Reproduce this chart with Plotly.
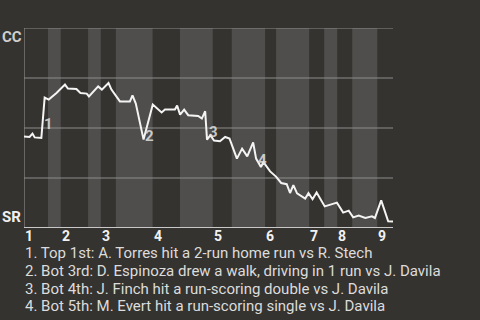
import plotly.graph_objects as go

# Game progress (0-100) and CC win probability after each plate appearance
progress = [0.0, 1.5, 2.3, 2.9, 4.7, 5.1, 5.6, 6.7, 8.8, 11.1, 11.9, 14.2, 15.3, 17.0,
            17.6, 20.1, 21.1, 22.9, 23.7, 26.0, 28.7, 29.4, 30.3, 32.4, 34.9, 37.3,
            38.2, 40.9, 41.5, 42.3, 43.4, 44.5, 47.2, 48.2, 49.1, 49.6, 50.5, 51.5,
            53.1, 54.5, 55.7, 57.7, 59.1, 60.5, 62.1, 62.9, 64.2, 64.9, 66.7, 68.3,
            69.7, 71.2, 72.1, 73.0, 74.0, 76.2, 77.1, 78.2, 79.3, 81.5, 83.1, 84.8,
            86.5, 88.0, 89.2, 90.7, 92.5, 94.3, 95.1, 96.8, 98.7, 100.0]
win_prob = [0.458, 0.455, 0.472, 0.453, 0.450, 0.547, 0.652, 0.642, 0.675, 0.717, 0.697,
            0.695, 0.675, 0.672, 0.658, 0.708, 0.692, 0.725, 0.692, 0.633, 0.633, 0.663,
            0.622, 0.442, 0.617, 0.578, 0.592, 0.592, 0.612, 0.567, 0.592, 0.564, 0.560,
            0.547, 0.584, 0.442, 0.464, 0.437, 0.434, 0.455, 0.447, 0.347, 0.397, 0.358,
            0.428, 0.347, 0.305, 0.329, 0.283, 0.257, 0.225, 0.219, 0.175, 0.214, 0.173,
            0.147, 0.174, 0.144, 0.178, 0.108, 0.119, 0.127, 0.077, 0.087, 0.053, 0.062,
            0.050, 0.058, 0.050, 0.138, 0.033, 0.032]

# Where each inning's top and bottom half begins (game progress units)
inning_labels = ["1", "2", "3", "4", "5", "6", "7", "8", "9"]
top_start = [0.0, 9.96, 20.82, 34.85, 51.14, 65.34, 77.28, 84.88, 95.74]
bottom_start = [6.51, 17.37, 24.89, 42.26, 56.30, 68.32, 81.35, 88.95]

# Key plays marked on the line
play_ids = ["1", "2", "3", "4"]
play_x = [6.7, 33.9, 51.4, 64.7]
play_y = [0.52, 0.46, 0.48, 0.34]
play_text = [
    "1. Top 1st: A. Torres hit a 2-run home run vs R. Stech",
    "2. Bot 3rd: D. Espinoza drew a walk, driving in 1 run vs J. Davila",
    "3. Bot 4th: J. Finch hit a run-scoring double vs J. Davila",
    "4. Bot 5th: M. Evert hit a run-scoring single vs J. Davila",
]

team_top = "CC"
team_bottom = "SR"

DARK = "#35332f"
LIGHT = "#4f4e4c"
GRID = "#8c8c8c"
FONT = "Roboto"

shapes = []
# lighter bands for the bottom halves of each inning
for i, b0 in enumerate(bottom_start):
    b1 = top_start[i + 1] if i + 1 < len(top_start) else 100.0
    shapes.append(dict(type="rect", xref="x", yref="y", x0=b0, x1=b1, y0=0, y1=1,
                       fillcolor=LIGHT, line_width=0, layer="below"))
# horizontal guide lines
for g in [0.25, 0.5, 0.75, 1.0]:
    shapes.append(dict(type="line", xref="x", yref="y", x0=0, x1=100, y0=g, y1=g,
                       line=dict(color=GRID, width=1), layer="below"))
# axis lines
shapes.append(dict(type="line", xref="x", yref="y", x0=0, x1=0, y0=0, y1=1,
                   line=dict(color=GRID, width=1.2), layer="below"))
shapes.append(dict(type="line", xref="x", yref="y", x0=0, x1=100, y0=0, y1=0,
                   line=dict(color="#c8c8c8", width=2), layer="above"))

fig = go.Figure()
fig.add_trace(go.Scatter(x=progress, y=win_prob, mode="lines",
                         line=dict(color="#f4f4f4", width=2), hoverinfo="skip"))

annotations = []
for lab, xs in zip(inning_labels, top_start):
    annotations.append(dict(x=xs, y=0, xref="x", yref="paper", text=f"<b>{lab}</b>",
                            showarrow=False, xanchor="left", yanchor="top", xshift=0,
                            yshift=1, borderpad=0,
                            font=dict(family=FONT, size=14, color="#f2f2f2")))
for pid, px, py in zip(play_ids, play_x, play_y):
    annotations.append(dict(x=px, y=py, xref="x", yref="y", text=f"<b>{pid}</b>",
                            showarrow=False, xanchor="center", yanchor="middle",
                            font=dict(family=FONT, size=15, color="rgba(225,225,225,0.85)")))
annotations.append(dict(x=0, y=1, xref="paper", yref="paper", text=f"<b>{team_top}</b>",
                        showarrow=False, xanchor="right", yanchor="top", xshift=0, yshift=2,
                        font=dict(family=FONT, size=15, color="#cfcfcf")))
annotations.append(dict(x=0, y=0, xref="paper", yref="paper", text=f"<b>{team_bottom}</b>",
                        showarrow=False, xanchor="right", yanchor="bottom", xshift=-1, yshift=0,
                        font=dict(family=FONT, size=15, color="#f0f0f0")))
for k, line in enumerate(play_text):
    annotations.append(dict(x=0, y=-0.1265 - k * 0.0885, xref="paper", yref="paper",
                            text=line, showarrow=False, xanchor="left", yanchor="middle",
                            borderpad=0, font=dict(family=FONT, size=15, color="#dcdcdc")))

fig.update_layout(
    width=480, height=320,
    margin=dict(l=24, r=87, t=28, b=92),
    paper_bgcolor=DARK, plot_bgcolor=DARK,
    showlegend=False,
    xaxis=dict(range=[0, 100], showgrid=False, zeroline=False, showticklabels=False,
               showline=False, fixedrange=True),
    yaxis=dict(range=[0, 1], showgrid=False, zeroline=False, showticklabels=False,
               showline=False, fixedrange=True),
    shapes=shapes,
    annotations=annotations,
)

fig.write_html("out.html")
